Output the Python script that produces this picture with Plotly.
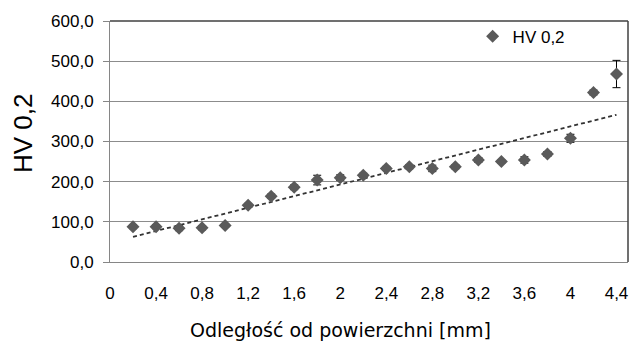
import numpy as np
import plotly.graph_objects as go

distance_mm = [0.2, 0.4, 0.6, 0.8, 1.0, 1.2, 1.4, 1.6, 1.8, 2.0, 2.2,
               2.4, 2.6, 2.8, 3.0, 3.2, 3.4, 3.6, 3.8, 4.0, 4.2, 4.4]
hv_values = [88, 88, 84, 85, 91, 141, 164, 186, 204, 210, 216,
             233, 237, 233, 237, 254, 250, 254, 269, 308, 422, 468]
hv_errors = [5, 5, 6, 5, 5, 5, 5, 6, 12, 7, 5,
             5, 5, 8, 5, 6, 4, 8, 6, 10, 6, 34]
series_name = "HV 0,2"
y_title = "HV 0,2"
x_title = "Odległość od powierzchni [mm]"

# linear trendline (least squares, like a spreadsheet trendline)
coef = np.polyfit(distance_mm, hv_values, 1)
trend_x = [distance_mm[0], distance_mm[-1]]
trend_y = list(np.polyval(coef, trend_x))

fig = go.Figure()
fig.add_trace(go.Scatter(
    x=trend_x, y=trend_y, mode="lines", showlegend=False,
    line=dict(color="#333333", width=1.8, dash="4px,3px"),
    hoverinfo="skip"))
fig.add_trace(go.Scatter(
    x=distance_mm, y=hv_values, mode="markers", name=series_name,
    marker=dict(symbol="diamond", size=10, color="#5a5a5a"),
    error_y=dict(type="data", array=hv_errors, visible=True,
                 color="#000000", thickness=1, width=4)))

fig.update_layout(
    width=630, height=343,
    margin=dict(l=110, r=2, t=21, b=81),
    paper_bgcolor="white", plot_bgcolor="white",
    separators=", ",
    font=dict(family="Liberation Sans, Arial, sans-serif", size=17, color="#000000"),
    showlegend=True,
    legend=dict(x=0.70, y=0.935, xanchor="left", yanchor="middle",
                bgcolor="rgba(0,0,0,0)", font=dict(size=17),
                itemwidth=30),
)
fig.update_xaxes(
    range=[0, 4.5], tick0=0, dtick=0.4, tickformat="~g",
    showgrid=False, zeroline=False,
    showline=True, linecolor="#868686", linewidth=1,
    ticks="", ticklabelstandoff=16,
    tickfont=dict(size=17, color="#000000"))
fig.update_yaxes(
    range=[0, 600], tick0=0, dtick=100, tickformat=".1f",
    showgrid=True, gridcolor="#8c8c8c", gridwidth=1,
    zeroline=False,
    showline=True, linecolor="#868686", linewidth=1,
    ticks="outside", ticklen=6, tickcolor="#868686",
    ticklabelstandoff=6,
    tickfont=dict(size=17, color="#000000"))

# plot-area border on top and right
fig.add_shape(type="line", xref="paper", yref="paper", x0=0, x1=1, y0=1, y1=1,
              line=dict(color="#404040", width=1.5))
fig.add_shape(type="line", xref="paper", yref="paper", x0=1, x1=1, y0=0, y1=1,
              line=dict(color="#404040", width=1.5))

fig.add_annotation(text=y_title, xref="paper", yref="paper",
                   x=(23 - 110) / 518, y=(262 - 133) / 241,
                   textangle=-90, showarrow=False, xanchor="center", yanchor="middle",
                   font=dict(size=26, family="Liberation Sans, Arial, sans-serif"))
fig.add_annotation(text=x_title, xref="paper", yref="paper",
                   x=(340 - 110) / 518, y=(262 - 330) / 241,
                   showarrow=False, xanchor="center", yanchor="middle",
                   font=dict(size=19, family="DejaVu Sans, Verdana, sans-serif"))

fig.write_html("out.html")
